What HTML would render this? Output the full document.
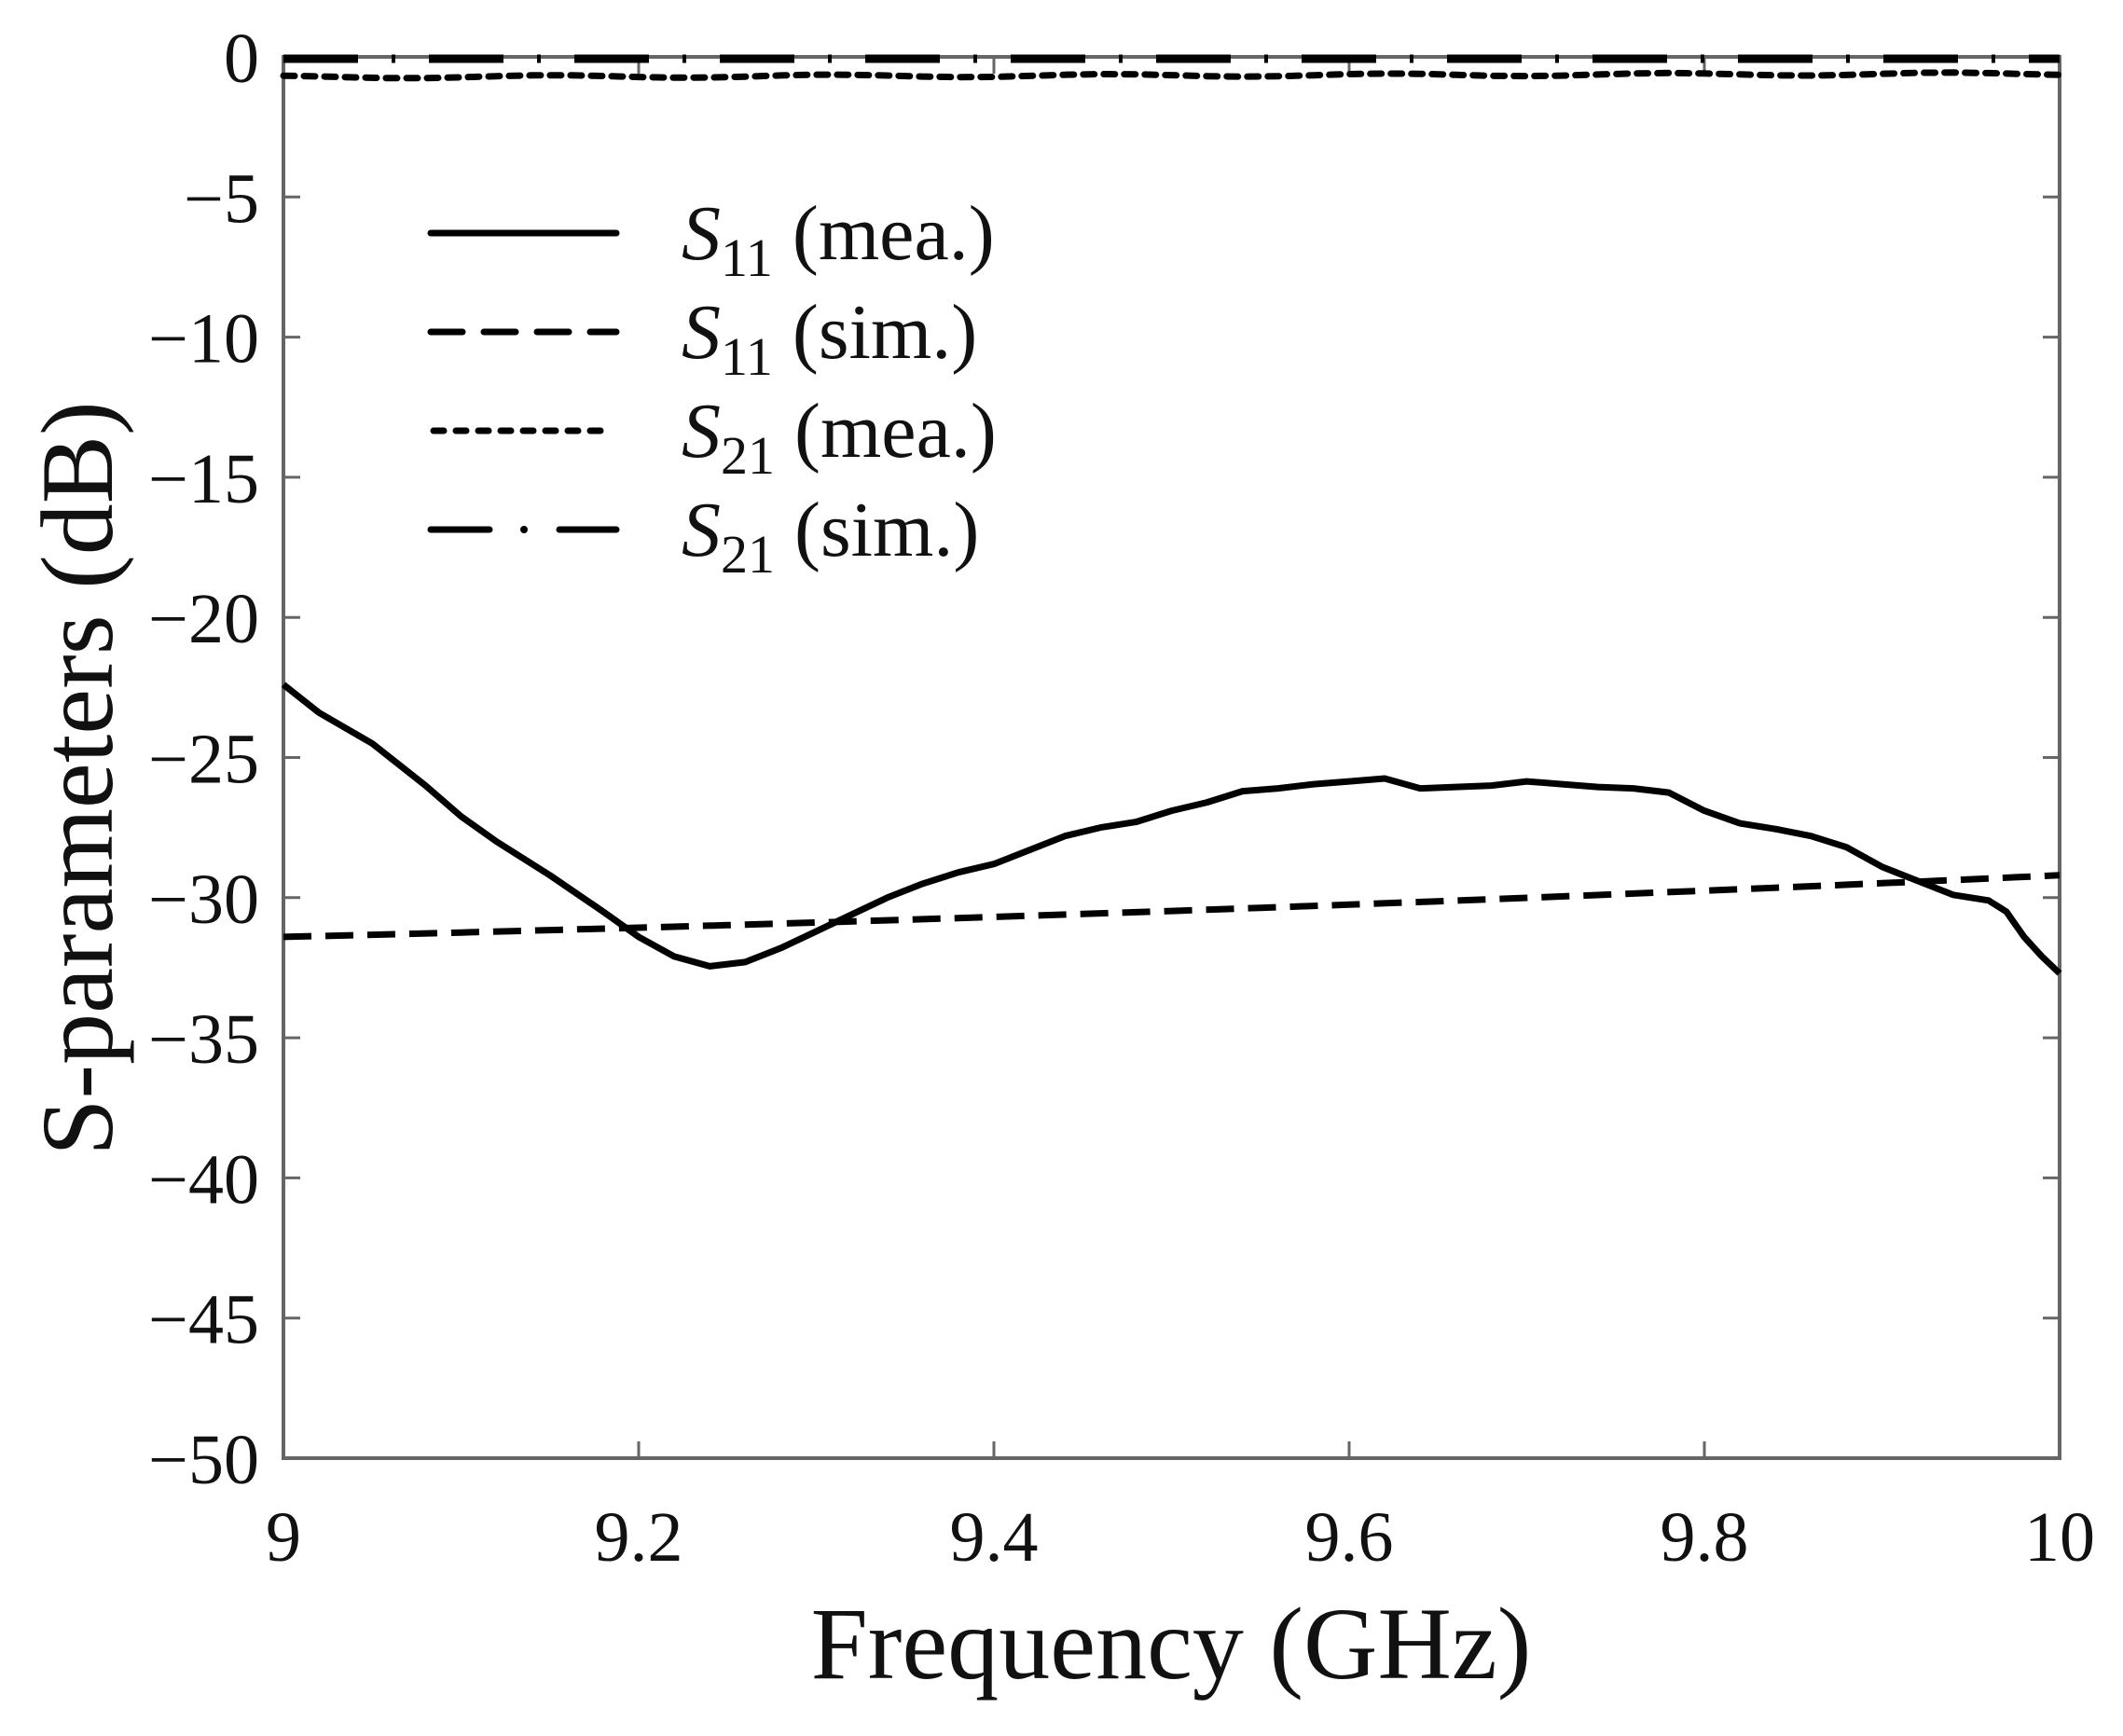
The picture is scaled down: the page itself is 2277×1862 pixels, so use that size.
<!DOCTYPE html>
<html><head><meta charset="utf-8"><style>
html,body{margin:0;padding:0;background:#fff;}
svg text{font-family:"Liberation Serif",serif;fill:#111;}
</style></head><body>
<svg id="s" width="2277" height="1857" viewBox="0 0 2277 1857" xmlns="http://www.w3.org/2000/svg">
<g id="g"></g>
<g font-size="84">
<text x="731" y="278"><tspan font-style="italic">S</tspan><tspan font-size="58" dy="18">11</tspan><tspan dy="-18"> (mea.)</tspan></text>
<text x="731" y="384"><tspan font-style="italic">S</tspan><tspan font-size="58" dy="18">11</tspan><tspan dy="-18"> (sim.)</tspan></text>
<text x="731" y="490"><tspan font-style="italic">S</tspan><tspan font-size="58" dy="18">21</tspan><tspan dy="-18"> (mea.)</tspan></text>
<text x="731" y="596"><tspan font-style="italic">S</tspan><tspan font-size="58" dy="18">21</tspan><tspan dy="-18"> (sim.)</tspan></text>
</g>
<text x="1256" y="1800" font-size="110" text-anchor="middle">Frequency (GHz)</text>
<text transform="translate(120,835) rotate(-90)" font-size="110" text-anchor="middle">S-parameters (dB)</text>
</svg>
<script>
var L=304,R=2209,T=61,B=1564;
function X(f){return L+(f-9)*1905;}function Y(d){return T+(-d)*30.06;}
var h='';
h+='<rect x="'+L+'" y="'+T+'" width="'+(R-L)+'" height="'+(B-T)+'" fill="none" stroke="#666" stroke-width="4"/>';
for(var i=0;i<=10;i++){var y=Y(-5*i);
 h+='<line x1="'+L+'" y1="'+y+'" x2="'+(L+18)+'" y2="'+y+'" stroke="#666" stroke-width="3"/>';
 h+='<line x1="'+R+'" y1="'+y+'" x2="'+(R-18)+'" y2="'+y+'" stroke="#666" stroke-width="3"/>';
 h+='<text x="'+(L-26)+'" y="'+(y+27)+'" font-size="76" text-anchor="end">'+(i?'\u2212'+5*i:'0')+'</text>';}
var xl=['9','9.2','9.4','9.6','9.8','10'];
for(var i=0;i<=5;i++){var x=L+i*381;
 h+='<line x1="'+x+'" y1="'+B+'" x2="'+x+'" y2="'+(B-18)+'" stroke="#666" stroke-width="3"/>';
 h+='<line x1="'+x+'" y1="'+T+'" x2="'+x+'" y2="'+(T+18)+'" stroke="#666" stroke-width="3"/>';
 h+='<text x="'+x+'" y="'+(B+110)+'" font-size="76" text-anchor="middle">'+xl[i]+'</text>';}
var m=[[9,-22.4],[9.02,-23.4],[9.05,-24.5],[9.08,-26.0],[9.1,-27.1],[9.12,-28.0],[9.15,-29.2],[9.18,-30.5],[9.2,-31.4],[9.22,-32.1],[9.24,-32.45],[9.26,-32.3],[9.28,-31.8],[9.3,-31.2],[9.32,-30.6],[9.34,-30.0],[9.36,-29.5],[9.38,-29.1],[9.4,-28.8],[9.42,-28.3],[9.44,-27.8],[9.46,-27.5],[9.48,-27.3],[9.5,-26.9],[9.52,-26.6],[9.54,-26.2],[9.56,-26.1],[9.58,-25.95],[9.6,-25.85],[9.62,-25.75],[9.64,-26.1],[9.66,-26.05],[9.68,-26.0],[9.7,-25.85],[9.72,-25.95],[9.74,-26.05],[9.76,-26.1],[9.78,-26.25],[9.8,-26.9],[9.82,-27.35],[9.84,-27.55],[9.86,-27.8],[9.88,-28.2],[9.9,-28.9],[9.92,-29.4],[9.94,-29.9],[9.96,-30.1],[9.97,-30.5],[9.98,-31.4],[9.99,-32.1],[10,-32.7]];
var p='';m.forEach(function(q,i){p+=(i?'L':'M')+X(q[0]).toFixed(1)+' '+Y(q[1]).toFixed(1);});
h+='<path d="'+p+'" fill="none" stroke="#000" stroke-width="7" stroke-linejoin="round"/>';
var s='';for(var f=9;f<=10.0001;f+=0.05){var d=-31.4+1.5*(f-9)+0.7*(f-9)*(f-9);s+=(s?'L':'M')+X(f).toFixed(1)+' '+Y(d).toFixed(1);}
h+='<path d="'+s+'" fill="none" stroke="#000" stroke-width="7" stroke-dasharray="30 15"/>';
var d2='';for(var f=9;f<=10.0001;f+=0.02){var d=-0.72+0.05*Math.sin(f*40)+0.12*(f-9);d2+=(d2?'L':'M')+X(f).toFixed(1)+' '+Y(d).toFixed(1);}
h+='<path d="'+d2+'" fill="none" stroke="#000" stroke-width="7" stroke-dasharray="12 10" stroke-linecap="round"/>';
h+='<line x1="'+L+'" y1="'+(T+2)+'" x2="'+R+'" y2="'+(T+2)+'" stroke="#000" stroke-width="9" stroke-dasharray="80 36 4 36"/>';
h+='<line x1="462" y1="250" x2="661" y2="250" stroke="#000" stroke-width="7" stroke-linecap="round"/>';
h+='<line x1="462" y1="356" x2="661" y2="356" stroke="#000" stroke-width="7" stroke-dasharray="34 23" stroke-linecap="round"/>';
h+='<line x1="465" y1="462" x2="655" y2="462" stroke="#000" stroke-width="7" stroke-dasharray="11 13" stroke-linecap="round"/>';
h+='<line x1="462" y1="568" x2="525" y2="568" stroke="#000" stroke-width="7" stroke-linecap="round"/>';
h+='<circle cx="562" cy="568" r="4" fill="#000"/>';
h+='<line x1="600" y1="568" x2="661" y2="568" stroke="#000" stroke-width="7" stroke-linecap="round"/>';
document.getElementById('g').innerHTML=h;
</script>
</body></html>
